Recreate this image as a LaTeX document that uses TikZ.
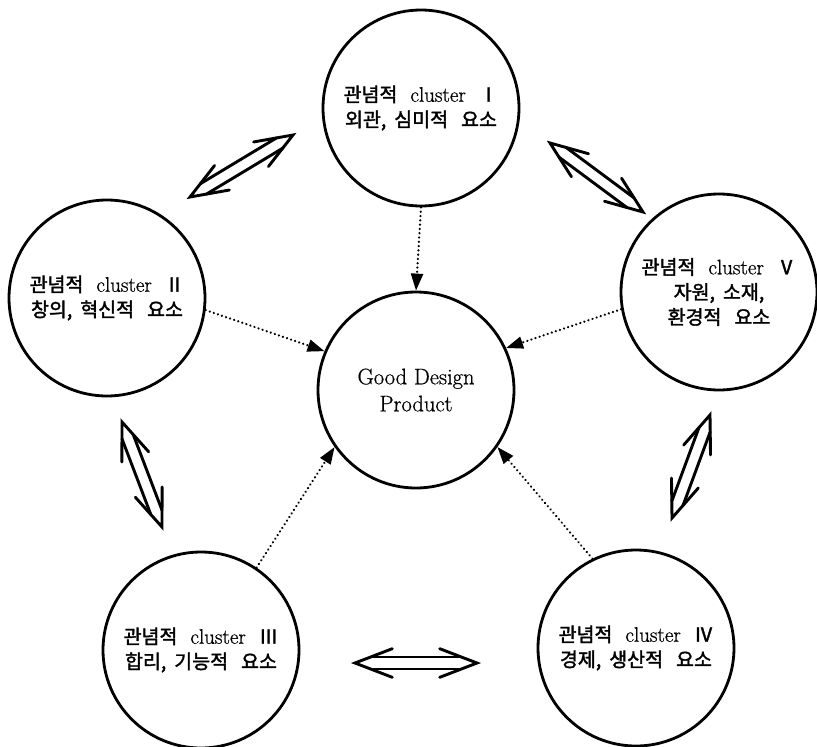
\documentclass[tikz,border=0pt]{standalone}
\usepackage{fontspec}
\setmainfont{Latin Modern Roman}[FakeBold=0.7]
\newfontfamily\kr{Noto Sans CJK KR}[FakeBold=1.8]
\usetikzlibrary{arrows.meta,calc}
\newcommand\wgap{\hspace{13pt}}
\newcommand\ngap{\hspace{8pt}}
\tikzset{
  clnode/.style={circle, draw, line width=2.8pt, minimum size=196pt, inner sep=0pt, align=center, font=\fontsize{21}{25}\selectfont},
  dotarrow/.style={line width=2.4pt, dash pattern=on 0.1pt off 4.2pt, line cap=round, -{Triangle[length=17pt,width=12pt]}},
  dblline/.style={line width=2.9pt, line cap=round, line join=miter},
}
\newcommand\kk[1]{{\fontsize{19.5}{25}\selectfont\kr #1}}
\newcommand\dblarrow[2]{%
  \draw[dblline] ($(#1)!40pt!21:(#2)$) -- (#1) -- ($(#1)!40pt!-21:(#2)$);
  \draw[dblline] ($(#2)!40pt!21:(#1)$) -- (#2) -- ($(#2)!40pt!-21:(#1)$);
  \draw[dblline] ($(#1)!15.6pt!(#2)!6pt!90:(#2)$) -- ($(#2)!15.6pt!(#1)!6pt!-90:(#1)$);
  \draw[dblline] ($(#1)!15.6pt!(#2)!6pt!-90:(#2)$) -- ($(#2)!15.6pt!(#1)!6pt!90:(#1)$);
}
\begin{document}
\begin{tikzpicture}[x=1pt,y=-1pt]
\useasboundingbox (0,0) rectangle (817,747);
\node[clnode] (T) at (421,108) {\kk{관념적}\wgap cluster\wgap\kk{Ⅰ}\\\kk{외관,\ngap 심미적\wgap 요소}};
\node[clnode] (L) at (107,298) {\kk{관념적}\wgap cluster\wgap\kk{Ⅱ}\\\kk{창의,\ngap 혁신적\wgap 요소}};
\node[clnode] (R) at (719,292) {\kk{관념적}\wgap cluster\wgap\kk{Ⅴ}\\\kk{자원,\ngap 소재,}\\\kk{환경적\wgap 요소}};
\node[clnode] (BL) at (201,650) {\kk{관념적}\wgap cluster\wgap\kk{Ⅲ}\\\kk{합리,\ngap 기능적\wgap 요소}};
\node[clnode] (BR) at (636,648) {\kk{관념적}\wgap cluster\wgap\kk{Ⅳ}\\\kk{경제,\ngap 생산적\wgap 요소}};
\node[clnode, font=\fontsize{22.5}{27}\selectfont] (C) at (416,390) {Good Design\\Product};

\draw[dotarrow] (T.-90) -- (C.90);
\draw[dotarrow] (L.-7) -- (C.157);
\draw[dotarrow] (R.190) -- (C.25);
\draw[dotarrow] (BL.56) -- (C.215);
\draw[dotarrow] (BR.116) -- (C.-35);

\coordinate (a1) at (190,197); \coordinate (a2) at (293,135);
\coordinate (b1) at (550,143); \coordinate (b2) at (643,212);
\coordinate (c1) at (122,422); \coordinate (c2) at (162,527);
\coordinate (d1) at (710,415); \coordinate (d2) at (672,518);
\coordinate (e1) at (355,663); \coordinate (e2) at (477,663);
\dblarrow{a1}{a2}
\dblarrow{b1}{b2}
\dblarrow{c1}{c2}
\dblarrow{d1}{d2}
\dblarrow{e1}{e2}
\end{tikzpicture}
\end{document}
